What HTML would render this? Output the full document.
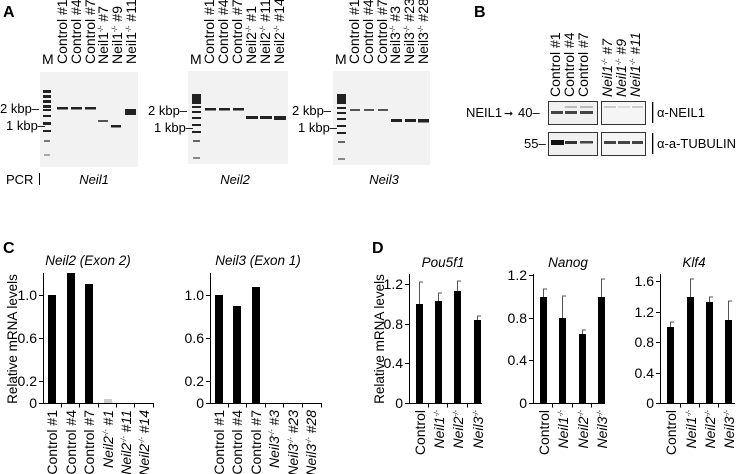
<!DOCTYPE html>
<html><head><meta charset="utf-8"><style>
body{margin:0;background:#fff}
svg{display:block;font-family:"Liberation Sans",sans-serif}
</style></head><body>
<svg width="736" height="474" viewBox="0 0 736 474" xmlns="http://www.w3.org/2000/svg">
<g font-size="13" fill="#000">
<!-- Panel A -->
<text x="3" y="17" font-size="16" font-weight="bold">A</text>
<rect x="40" y="72" width="98" height="95" fill="#f2f2f2"/>
<g fill="#222">
<rect x="43" y="90" width="8" height="3"/><rect x="43" y="95" width="8" height="3"/><rect x="43" y="100" width="8" height="3"/><rect x="43" y="105" width="8" height="3"/><rect x="43" y="109" width="8" height="2"/><rect x="43" y="115" width="8" height="2"/><rect x="43" y="122" width="8" height="3"/><rect x="43" y="130" width="8" height="2"/><rect x="44" y="140" width="6" height="2" fill="#777"/><rect x="44" y="154" width="6" height="2" fill="#aaa"/>
<rect x="57" y="107" width="11" height="2.5"/><rect x="71" y="107" width="11" height="2.5"/><rect x="85" y="107" width="11" height="2.5"/>
<rect x="98" y="120" width="10" height="2" fill="#555"/><rect x="111" y="125" width="10" height="2.5"/><rect x="125" y="109" width="11" height="6"/>
</g>
<text x="0" y="113">2 kbp–</text><text x="6" y="130">1 kbp–</text>
<g font-size="14">
<text x="42" y="64">M</text>
<text transform="translate(67,64) rotate(-90)">Control #1</text>
<text transform="translate(81,64) rotate(-90)">Control #4</text>
<text transform="translate(95,64) rotate(-90)">Control #7</text>
<text transform="translate(108,64) rotate(-90)">Neil1<tspan font-size="7" dy="-5">-/-</tspan><tspan dy="5"> #7</tspan></text>
<text transform="translate(122,64) rotate(-90)">Neil1<tspan font-size="7" dy="-5">-/-</tspan><tspan dy="5"> #9</tspan></text>
<text transform="translate(136,64) rotate(-90)">Neil1<tspan font-size="7" dy="-5">-/-</tspan><tspan dy="5"> #11</tspan></text>
</g>
<rect x="188" y="71" width="100" height="93" fill="#f2f2f2"/>
<g fill="#222">
<rect x="192" y="94" width="9" height="10"/><rect x="192" y="106" width="9" height="2"/><rect x="192" y="111" width="9" height="2"/><rect x="192" y="117" width="9" height="2"/><rect x="192" y="124" width="9" height="2"/><rect x="192" y="131" width="9" height="2"/><rect x="193" y="140" width="7" height="2" fill="#666"/><rect x="193" y="157" width="7" height="2" fill="#888"/>
<rect x="205" y="108" width="11" height="2.5"/><rect x="219" y="108" width="11" height="2.5"/><rect x="233" y="108" width="11" height="2.5"/>
<rect x="246" y="116" width="12" height="3"/><rect x="260" y="116" width="12" height="3"/><rect x="274" y="116" width="12" height="4"/>
</g>
<text x="148" y="115">2 kbp–</text><text x="154" y="132">1 kbp–</text>
<g font-size="14">
<text x="190" y="64">M</text>
<text transform="translate(214,64) rotate(-90)">Control #1</text>
<text transform="translate(228,64) rotate(-90)">Control #4</text>
<text transform="translate(242,64) rotate(-90)">Control #7</text>
<text transform="translate(256,64) rotate(-90)">Neil2<tspan font-size="7" dy="-5">-/-</tspan><tspan dy="5"> #1</tspan></text>
<text transform="translate(270,64) rotate(-90)">Neil2<tspan font-size="7" dy="-5">-/-</tspan><tspan dy="5"> #11</tspan></text>
<text transform="translate(284,64) rotate(-90)">Neil2<tspan font-size="7" dy="-5">-/-</tspan><tspan dy="5"> #14</tspan></text>
</g>
<rect x="333" y="71" width="97" height="94" fill="#f2f2f2"/>
<g fill="#222">
<rect x="337" y="94" width="9" height="10"/><rect x="337" y="107" width="9" height="2"/><rect x="337" y="112" width="9" height="2"/><rect x="337" y="118" width="9" height="2"/><rect x="337" y="125" width="9" height="2"/><rect x="337" y="132" width="9" height="2"/><rect x="338" y="141" width="7" height="2" fill="#666"/><rect x="338" y="158" width="7" height="2" fill="#888"/>
<rect x="350" y="109" width="10" height="2" fill="#555"/><rect x="364" y="109" width="10" height="2" fill="#555"/><rect x="378" y="109" width="10" height="2" fill="#555"/>
<rect x="391" y="119" width="11" height="3"/><rect x="405" y="119" width="11" height="3"/><rect x="418" y="119" width="11" height="3.5"/>
</g>
<text x="292" y="115">2 kbp–</text><text x="298" y="132">1 kbp–</text>
<g font-size="14">
<text x="335" y="64">M</text>
<text transform="translate(359,64) rotate(-90)">Control #1</text>
<text transform="translate(373,64) rotate(-90)">Control #4</text>
<text transform="translate(387,64) rotate(-90)">Control #7</text>
<text transform="translate(400,64) rotate(-90)">Neil3<tspan font-size="7" dy="-5">-/-</tspan><tspan dy="5"> #3</tspan></text>
<text transform="translate(414,64) rotate(-90)">Neil3<tspan font-size="7" dy="-5">-/-</tspan><tspan dy="5"> #23</tspan></text>
<text transform="translate(428,64) rotate(-90)">Neil3<tspan font-size="7" dy="-5">-/-</tspan><tspan dy="5"> #28</tspan></text>
</g>
<text x="6" y="184">PCR</text><rect x="39" y="173" width="1" height="12"/>
<g font-style="italic" text-anchor="middle"><text x="94" y="184">Neil1</text><text x="235" y="184">Neil2</text><text x="384" y="184">Neil3</text></g>

<!-- Panel B -->
<text x="474" y="17" font-size="16" font-weight="bold">B</text>
<g font-size="14">
<text transform="translate(560,97) rotate(-90)">Control #1</text>
<text transform="translate(574,97) rotate(-90)">Control #4</text>
<text transform="translate(588,97) rotate(-90)">Control #7</text>
<g font-style="italic">
<text transform="translate(612,97) rotate(-90)">Neil1<tspan font-size="7" dy="-5">-/-</tspan><tspan dy="5"> #7</tspan></text>
<text transform="translate(626,97) rotate(-90)">Neil1<tspan font-size="7" dy="-5">-/-</tspan><tspan dy="5"> #9</tspan></text>
<text transform="translate(640,97) rotate(-90)">Neil1<tspan font-size="7" dy="-5">-/-</tspan><tspan dy="5"> #11</tspan></text>
</g></g>
<rect x="548.5" y="101.5" width="49" height="23" fill="#f0f0f0" stroke="#333"/>
<rect x="601.5" y="101.5" width="44" height="23" fill="#f5f5f5" stroke="#333"/>
<rect x="548.5" y="132.5" width="49" height="23" fill="#f0f0f0" stroke="#333"/>
<rect x="601.5" y="132.5" width="44" height="23" fill="#f5f5f5" stroke="#333"/>
<g fill="#444"><rect x="551" y="111" width="12" height="3"/><rect x="565" y="111" width="12" height="3"/><rect x="580" y="111" width="13" height="3"/>
<rect x="565" y="106" width="12" height="2" fill="#bbb"/><rect x="580" y="106" width="13" height="2" fill="#bbb"/>
<rect x="604" y="106" width="12" height="2" fill="#ccc"/><rect x="618" y="106" width="12" height="2" fill="#ddd"/><rect x="632" y="106" width="11" height="2" fill="#ccc"/>
<rect x="551" y="140" width="13" height="5" fill="#111"/><rect x="565" y="141" width="12" height="3" fill="#333"/><rect x="580" y="141" width="13" height="2.5"/>
<rect x="604" y="141" width="12" height="3"/><rect x="618" y="141" width="12" height="3"/><rect x="632" y="141" width="11" height="3"/></g>
<text x="466" y="117">NEIL1</text><text x="504" y="117" font-size="11">➞</text><text x="518" y="117">40–</text>
<text x="524" y="148">55–</text>
<rect x="652" y="102" width="1.3" height="21"/><rect x="652" y="133" width="1.3" height="21"/>
<text x="657" y="117">α-NEIL1</text><text x="657" y="148">α-a-TUBULIN</text>

<!-- Panel C -->
<text x="3" y="253" font-size="16" font-weight="bold">C</text>
<text transform="translate(17,339) rotate(-90)" text-anchor="middle" font-size="13.5">Relative mRNA levels</text>
<g font-style="italic" text-anchor="middle" font-size="13.5"><text x="88" y="265">Neil2 (Exon 2)</text><text x="258" y="265">Neil3 (Exon 1)</text></g>
<g stroke="#000" stroke-width="1" fill="none">
<path d="M43.5 273V403.5H154M39 295.5H43.5M39 338.5H43.5M39 381.5H43.5M39 403.5H43.5M61.5 403.5v4M79.5 403.5v4M98.5 403.5v4M116.5 403.5v4M134.5 403.5v4M153.5 403.5v4"/>
<path d="M210.5 273V403.5H322M206 295.5H210.5M206 338.5H210.5M206 381.5H210.5M206 403.5H210.5M228.5 403.5v4M246.5 403.5v4M265.5 403.5v4M283.5 403.5v4M302.5 403.5v4M321.5 403.5v4"/>
</g>
<g text-anchor="end" font-size="14"><text x="37" y="300">1.0</text><text x="37" y="343">0.6</text><text x="37" y="386">0.2</text><text x="37" y="408">0</text>
<text x="204" y="300">1.0</text><text x="204" y="343">0.6</text><text x="204" y="386">0.2</text><text x="204" y="408">0</text></g>
<rect x="48" y="295" width="8" height="108"/><rect x="67" y="273" width="8" height="130"/><rect x="85" y="284" width="8" height="119"/><rect x="104" y="399" width="8" height="4" fill="#ccc"/>
<rect x="215" y="295" width="8" height="108"/><rect x="233" y="306" width="8" height="97"/><rect x="252" y="287" width="8" height="116"/>
<g text-anchor="end" font-size="14">
<text transform="translate(57,410) rotate(-90)">Control #1</text>
<text transform="translate(76,410) rotate(-90)">Control #4</text>
<text transform="translate(94,410) rotate(-90)">Control #7</text>
<g font-style="italic">
<text transform="translate(113,410) rotate(-90)">Neil2<tspan font-size="7" dy="-5">-/-</tspan><tspan dy="5"> #1</tspan></text>
<text transform="translate(131,410) rotate(-90)">Neil2<tspan font-size="7" dy="-5">-/-</tspan><tspan dy="5"> #11</tspan></text>
<text transform="translate(149,410) rotate(-90)">Neil2<tspan font-size="7" dy="-5">-/-</tspan><tspan dy="5"> #14</tspan></text>
</g>
<text transform="translate(224,410) rotate(-90)">Control #1</text>
<text transform="translate(242,410) rotate(-90)">Control #4</text>
<text transform="translate(261,410) rotate(-90)">Control #7</text>
<g font-style="italic">
<text transform="translate(279,410) rotate(-90)">Neil3<tspan font-size="7" dy="-5">-/-</tspan><tspan dy="5"> #3</tspan></text>
<text transform="translate(298,410) rotate(-90)">Neil3<tspan font-size="7" dy="-5">-/-</tspan><tspan dy="5"> #23</tspan></text>
<text transform="translate(316,410) rotate(-90)">Neil3<tspan font-size="7" dy="-5">-/-</tspan><tspan dy="5"> #28</tspan></text>
</g></g>

<!-- Panel D -->
<text x="372" y="253" font-size="16" font-weight="bold">D</text>
<text transform="translate(384,339) rotate(-90)" text-anchor="middle" font-size="13.5">Relative mRNA levels</text>
<g font-style="italic" text-anchor="middle" font-size="13.5"><text x="443" y="267">Pou5f1</text><text x="568" y="267">Nanog</text><text x="694" y="267">Klf4</text></g>
<g stroke="#000" fill="none">
<path d="M409.5 274V403.5H482M405 284.5H409.5M405 324.5H409.5M405 363.5H409.5M405 403.5H409.5M428.5 403.5v4M447.5 403.5v4M467.5 403.5v4"/>
<path d="M533.5 274V403.5H605M529 275.5H533.5M529 318.5H533.5M529 360.5H533.5M529 403.5H533.5M552.5 403.5v4M572.5 403.5v4M591.5 403.5v4"/>
<path d="M660.5 274V403.5H735M656 281.5H660.5M656 312.5H660.5M656 342.5H660.5M656 373.5H660.5M656 403.5H660.5M680.5 403.5v4M699.5 403.5v4M718.5 403.5v4"/>
</g>
<g stroke="#555" fill="none">
<path d="M419.5 304V282H423M438.5 301V293H442M457.5 291V281H461M477.5 320V316H481"/>
<path d="M543.5 297V289H547M562.5 318V296H566M582.5 334V330H586M601.5 297V279H605"/>
<path d="M670.5 327V322H674M690.5 297V279H694M709.5 302V297H713M728.5 320V301H732"/>
</g>
<g text-anchor="end" font-size="14"><text x="403" y="289">1.2</text><text x="403" y="329">0.8</text><text x="403" y="368">0.4</text><text x="403" y="408">0</text>
<text x="527" y="280">1.2</text><text x="527" y="323">0.8</text><text x="527" y="365">0.4</text><text x="527" y="408">0</text>
<text x="654" y="286">1.6</text><text x="654" y="317">1.2</text><text x="654" y="347">0.8</text><text x="654" y="378">0.4</text><text x="654" y="408">0</text></g>
<rect x="416" y="304" width="7" height="99"/><rect x="435" y="301" width="7" height="102"/><rect x="454" y="291" width="7" height="112"/><rect x="474" y="320" width="7" height="83"/>
<rect x="540" y="297" width="7" height="106"/><rect x="559" y="318" width="7" height="85"/><rect x="579" y="334" width="7" height="69"/><rect x="598" y="297" width="7" height="106"/>
<rect x="667" y="327" width="7" height="76"/><rect x="687" y="297" width="7" height="106"/><rect x="706" y="302" width="7" height="101"/><rect x="725" y="320" width="7" height="83"/>
<g text-anchor="end" font-size="14">
<text transform="translate(425,410) rotate(-90)">Control</text>
<text transform="translate(549,410) rotate(-90)">Control</text>
<text transform="translate(676,410) rotate(-90)">Control</text>
<g font-style="italic">
<text transform="translate(444,410) rotate(-90)">Neil1<tspan font-size="7" dy="-5">-/-</tspan></text>
<text transform="translate(463,410) rotate(-90)">Neil2<tspan font-size="7" dy="-5">-/-</tspan></text>
<text transform="translate(483,410) rotate(-90)">Neil3<tspan font-size="7" dy="-5">-/-</tspan></text>
<text transform="translate(568,410) rotate(-90)">Neil1<tspan font-size="7" dy="-5">-/-</tspan></text>
<text transform="translate(588,410) rotate(-90)">Neil2<tspan font-size="7" dy="-5">-/-</tspan></text>
<text transform="translate(607,410) rotate(-90)">Neil3<tspan font-size="7" dy="-5">-/-</tspan></text>
<text transform="translate(696,410) rotate(-90)">Neil1<tspan font-size="7" dy="-5">-/-</tspan></text>
<text transform="translate(715,410) rotate(-90)">Neil2<tspan font-size="7" dy="-5">-/-</tspan></text>
<text transform="translate(734,410) rotate(-90)">Neil3<tspan font-size="7" dy="-5">-/-</tspan></text>
</g></g>
</g>
</svg>
</body></html>
